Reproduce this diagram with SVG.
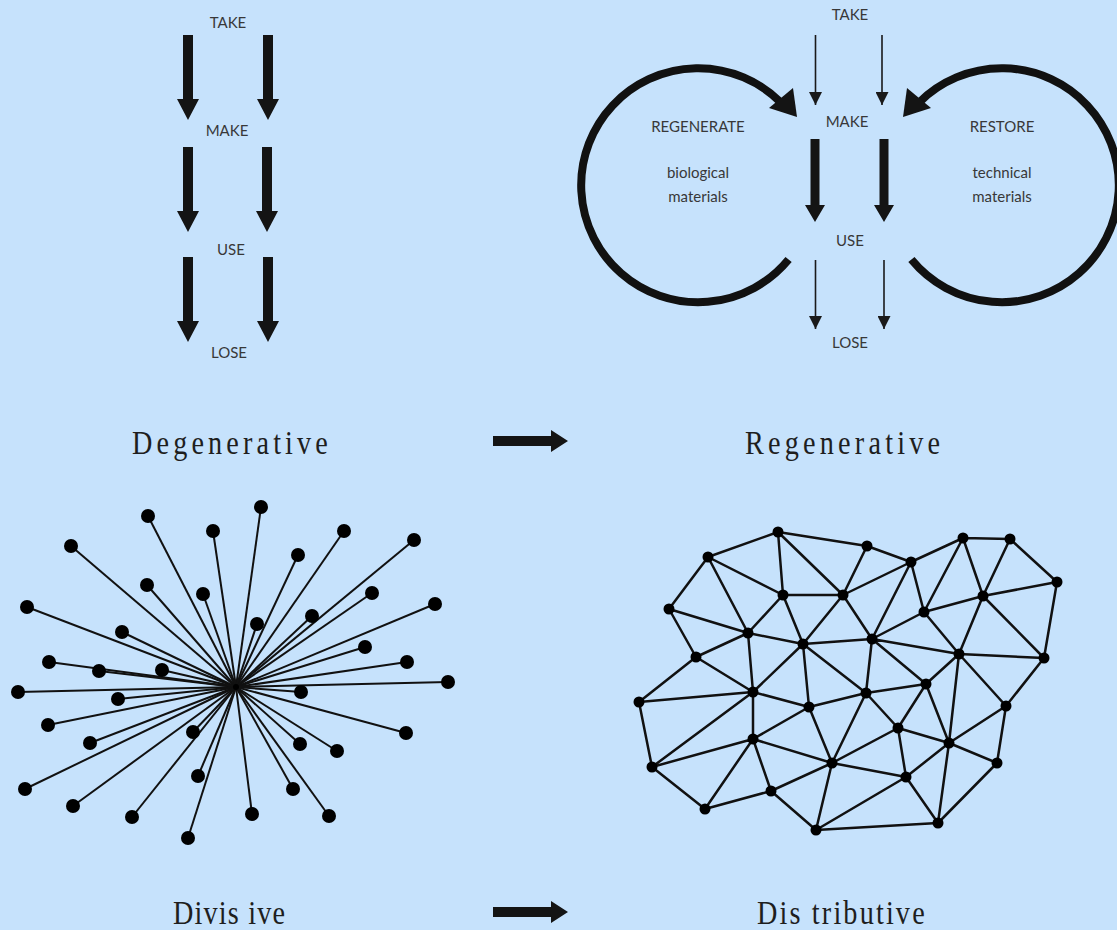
<svg xmlns="http://www.w3.org/2000/svg" xmlns:xlink="http://www.w3.org/1999/xlink" width="1117" height="930" viewBox="0 0 1117 930">
<style>
.lbl{font-family:Lato,"Open Sans","Liberation Sans",sans-serif;font-size:15px;fill:#383838;text-anchor:middle}
.cap{font-family:"Liberation Serif","Times New Roman",serif;font-size:34px;fill:#1e1e1e}
.thin{stroke:#1a1a1a;stroke-width:1.6;fill:none}
.loop{stroke:#111;stroke-width:8;fill:none}
.spoke{stroke:#111;stroke-width:2}
.mesh{stroke:#111;stroke-width:2.5;fill:none;stroke-linecap:round}
.dot{fill:#000}
.blk{fill:#141414}
</style>
<defs>
<path id="bigArrow" d="M-5,0 H5 V64 H11 L0,85 L-11,64 H-5 Z"/>
<path id="midArrow" d="M-4.5,0 H4.5 V66 H10 L0,83 L-10,66 H-4.5 Z"/>
<path id="capArrow" d="M0,-5 H58 V-11 L75,0 L58,11 V5 H0 Z"/>
<marker id="thinHead" viewBox="0 0 14 13" refX="13" refY="6.5" markerWidth="14" markerHeight="13" markerUnits="userSpaceOnUse" orient="auto">
<path d="M0,0 L13,6.5 L0,13 Z" fill="#1a1a1a"/>
</marker>
<g id="loopShape">
<path class="loop" d="M788.6,259.5 A117,117 0 1 1 780.7,102.3"/>
<path class="blk" d="M793,88 L797,117 L769,108 Z"/>
</g>
</defs>
<rect x="0" y="0" width="1117" height="930" fill="#C6E2FC"/>

<g id="degenerative">
<text class="lbl" x="228" y="28">TAKE</text>
<text class="lbl" x="227" y="136">MAKE</text>
<text class="lbl" x="231" y="255">USE</text>
<text class="lbl" x="229" y="358">LOSE</text>
<g class="blk">
<use xlink:href="#bigArrow" transform="translate(188,35)"/>
<use xlink:href="#bigArrow" transform="translate(268,35)"/>
<use xlink:href="#bigArrow" transform="translate(188,147)"/>
<use xlink:href="#bigArrow" transform="translate(267,147)"/>
<use xlink:href="#bigArrow" transform="translate(188,257)"/>
<use xlink:href="#bigArrow" transform="translate(268,257)"/>
</g>
</g>

<g id="regenerative">
<text class="lbl" x="850" y="20">TAKE</text>
<text class="lbl" x="847" y="127">MAKE</text>
<text class="lbl" x="850" y="246">USE</text>
<text class="lbl" x="850" y="348">LOSE</text>
<text class="lbl" x="698" y="132">REGENERATE</text>
<text class="lbl" x="698" y="178">biological</text>
<text class="lbl" x="698" y="202">materials</text>
<text class="lbl" x="1002" y="132">RESTORE</text>
<text class="lbl" x="1002" y="178">technical</text>
<text class="lbl" x="1002" y="202">materials</text>
<line class="thin" x1="815.5" y1="35" x2="815.5" y2="105" marker-end="url(#thinHead)"/>
<line class="thin" x1="882" y1="35" x2="882" y2="105" marker-end="url(#thinHead)"/>
<line class="thin" x1="815.5" y1="260" x2="815.5" y2="329" marker-end="url(#thinHead)"/>
<line class="thin" x1="884" y1="260" x2="884" y2="329" marker-end="url(#thinHead)"/>
<g class="blk">
<use xlink:href="#midArrow" transform="translate(815,139)"/>
<use xlink:href="#midArrow" transform="translate(884,139)"/>
</g>
<use xlink:href="#loopShape"/>
<use xlink:href="#loopShape" transform="matrix(-1 0 0 1 1700 0)"/>
</g>

<g id="captions">
<text class="cap" transform="translate(132,454) scale(0.83,1)" textLength="236" lengthAdjust="spacing">Degenerative</text>
<text class="cap" transform="translate(745,454) scale(0.83,1)" textLength="235" lengthAdjust="spacing">Regenerative</text>
<text class="cap" transform="translate(173,924) scale(0.83,1)" textLength="135" lengthAdjust="spacing">Divis ive</text>
<text class="cap" transform="translate(757,924) scale(0.83,1)" textLength="202" lengthAdjust="spacing">Dis tributive</text>
<g class="blk">
<use xlink:href="#capArrow" transform="translate(493,441)"/>
<use xlink:href="#capArrow" transform="translate(493,912)"/>
</g>
</g>

<g id="divisive">
<g class="spoke">
<line x1="236" y1="687" x2="148" y2="516"/><line x1="236" y1="687" x2="261" y2="507"/>
<line x1="236" y1="687" x2="213" y2="531"/><line x1="236" y1="687" x2="344" y2="531"/>
<line x1="236" y1="687" x2="414" y2="540"/><line x1="236" y1="687" x2="71" y2="546"/>
<line x1="236" y1="687" x2="298" y2="555"/><line x1="236" y1="687" x2="147" y2="585"/>
<line x1="236" y1="687" x2="203" y2="594"/><line x1="236" y1="687" x2="372" y2="593"/>
<line x1="236" y1="687" x2="435" y2="604"/><line x1="236" y1="687" x2="27" y2="607"/>
<line x1="236" y1="687" x2="257" y2="624"/><line x1="236" y1="687" x2="312" y2="616"/>
<line x1="236" y1="687" x2="122" y2="632"/><line x1="236" y1="687" x2="365" y2="647"/>
<line x1="236" y1="687" x2="407" y2="662"/><line x1="236" y1="687" x2="49" y2="662"/>
<line x1="236" y1="687" x2="99" y2="671"/><line x1="236" y1="687" x2="162" y2="670"/>
<line x1="236" y1="687" x2="448" y2="682"/><line x1="236" y1="687" x2="18" y2="692"/>
<line x1="236" y1="687" x2="301" y2="692"/><line x1="236" y1="687" x2="118" y2="699"/>
<line x1="236" y1="687" x2="48" y2="725"/><line x1="236" y1="687" x2="406" y2="733"/>
<line x1="236" y1="687" x2="90" y2="743"/><line x1="236" y1="687" x2="193" y2="732"/>
<line x1="236" y1="687" x2="300" y2="744"/><line x1="236" y1="687" x2="337" y2="751"/>
<line x1="236" y1="687" x2="25" y2="789"/><line x1="236" y1="687" x2="198" y2="776"/>
<line x1="236" y1="687" x2="293" y2="789"/><line x1="236" y1="687" x2="73" y2="806"/>
<line x1="236" y1="687" x2="132" y2="817"/><line x1="236" y1="687" x2="252" y2="814"/>
<line x1="236" y1="687" x2="329" y2="816"/><line x1="236" y1="687" x2="188" y2="838"/>
</g>
<g class="dot">
<circle cx="148" cy="516" r="7"/><circle cx="261" cy="507" r="7"/><circle cx="213" cy="531" r="7"/>
<circle cx="344" cy="531" r="7"/><circle cx="414" cy="540" r="7"/><circle cx="71" cy="546" r="7"/>
<circle cx="298" cy="555" r="7"/><circle cx="147" cy="585" r="7"/><circle cx="203" cy="594" r="7"/>
<circle cx="372" cy="593" r="7"/><circle cx="435" cy="604" r="7"/><circle cx="27" cy="607" r="7"/>
<circle cx="257" cy="624" r="7"/><circle cx="312" cy="616" r="7"/><circle cx="122" cy="632" r="7"/>
<circle cx="365" cy="647" r="7"/><circle cx="407" cy="662" r="7"/><circle cx="49" cy="662" r="7"/>
<circle cx="99" cy="671" r="7"/><circle cx="162" cy="670" r="7"/><circle cx="448" cy="682" r="7"/>
<circle cx="18" cy="692" r="7"/><circle cx="301" cy="692" r="7"/><circle cx="118" cy="699" r="7"/>
<circle cx="48" cy="725" r="7"/><circle cx="406" cy="733" r="7"/><circle cx="90" cy="743" r="7"/>
<circle cx="193" cy="732" r="7"/><circle cx="300" cy="744" r="7"/><circle cx="337" cy="751" r="7"/>
<circle cx="25" cy="789" r="7"/><circle cx="198" cy="776" r="7"/><circle cx="293" cy="789" r="7"/>
<circle cx="73" cy="806" r="7"/><circle cx="132" cy="817" r="7"/><circle cx="252" cy="814" r="7"/>
<circle cx="329" cy="816" r="7"/><circle cx="188" cy="838" r="7"/>
<circle cx="236" cy="687" r="3"/>
</g>
</g>

<g id="distributive">
<path class="mesh" d="
M778,532 L708,557 M778,532 L783,595 M778,532 L843,595 M778,532 L867,546
M867,546 L843,595 M867,546 L911,562
M708,557 L669,609 M708,557 L783,595 M708,557 L748,633
M911,562 L963,538 M911,562 L843,595 M911,562 L872,639 M911,562 L924,612
M963,538 L1010,539 M963,538 L983,596 M963,538 L924,612
M1010,539 L983,596 M1010,539 L1057,582
M1057,582 L983,596 M1057,582 L1044,658
M669,609 L748,633 M669,609 L696,657
M783,595 L843,595 M783,595 L748,633 M783,595 L803,644
M843,595 L803,644 M843,595 L872,639
M983,596 L924,612 M983,596 L959,654 M983,596 L1044,658
M924,612 L872,639 M924,612 L959,654
M748,633 L803,644 M748,633 L696,657 M748,633 L753,692
M803,644 L872,639 M803,644 L753,692 M803,644 L809,707 M803,644 L866,693
M872,639 L959,654 M872,639 L866,693 M872,639 L926,684
M959,654 L1044,658 M959,654 L926,684 M959,654 L1006,706 M959,654 L949,743
M1044,658 L1006,706
M696,657 L753,692 M696,657 L639,702
M926,684 L866,693 M926,684 L898,728 M926,684 L949,743
M753,692 L639,702 M753,692 L809,707 M753,692 L753,739 M753,692 L652,767
M866,693 L809,707 M866,693 L898,728 M866,693 L832,763
M639,702 L652,767
M809,707 L753,739 M809,707 L832,763
M1006,706 L949,743 M1006,706 L997,763
M898,728 L949,743 M898,728 L906,777 M898,728 L832,763
M753,739 L652,767 M753,739 L832,763 M753,739 L771,791 M753,739 L705,809
M949,743 L997,763 M949,743 L906,777 M949,743 L938,823
M652,767 L705,809
M832,763 L906,777 M832,763 L771,791 M832,763 L816,830
M997,763 L938,823
M906,777 L816,830 M906,777 L938,823
M771,791 L705,809 M771,791 L816,830
M816,830 L938,823"/>
<g class="dot">
<circle cx="778" cy="532" r="5.5"/><circle cx="867" cy="546" r="5.5"/><circle cx="708" cy="557" r="5.5"/>
<circle cx="911" cy="562" r="5.5"/><circle cx="963" cy="538" r="5.5"/><circle cx="1010" cy="539" r="5.5"/>
<circle cx="1057" cy="582" r="5.5"/><circle cx="669" cy="609" r="5.5"/><circle cx="783" cy="595" r="5.5"/>
<circle cx="843" cy="595" r="5.5"/><circle cx="983" cy="596" r="5.5"/><circle cx="924" cy="612" r="5.5"/>
<circle cx="748" cy="633" r="5.5"/><circle cx="803" cy="644" r="5.5"/><circle cx="872" cy="639" r="5.5"/>
<circle cx="959" cy="654" r="5.5"/><circle cx="1044" cy="658" r="5.5"/><circle cx="696" cy="657" r="5.5"/>
<circle cx="926" cy="684" r="5.5"/><circle cx="753" cy="692" r="5.5"/><circle cx="866" cy="693" r="5.5"/>
<circle cx="639" cy="702" r="5.5"/><circle cx="809" cy="707" r="5.5"/><circle cx="1006" cy="706" r="5.5"/>
<circle cx="898" cy="728" r="5.5"/><circle cx="753" cy="739" r="5.5"/><circle cx="949" cy="743" r="5.5"/>
<circle cx="652" cy="767" r="5.5"/><circle cx="832" cy="763" r="5.5"/><circle cx="997" cy="763" r="5.5"/>
<circle cx="906" cy="777" r="5.5"/><circle cx="771" cy="791" r="5.5"/><circle cx="705" cy="809" r="5.5"/>
<circle cx="816" cy="830" r="5.5"/><circle cx="938" cy="823" r="5.5"/>
</g>
</g>
</svg>
